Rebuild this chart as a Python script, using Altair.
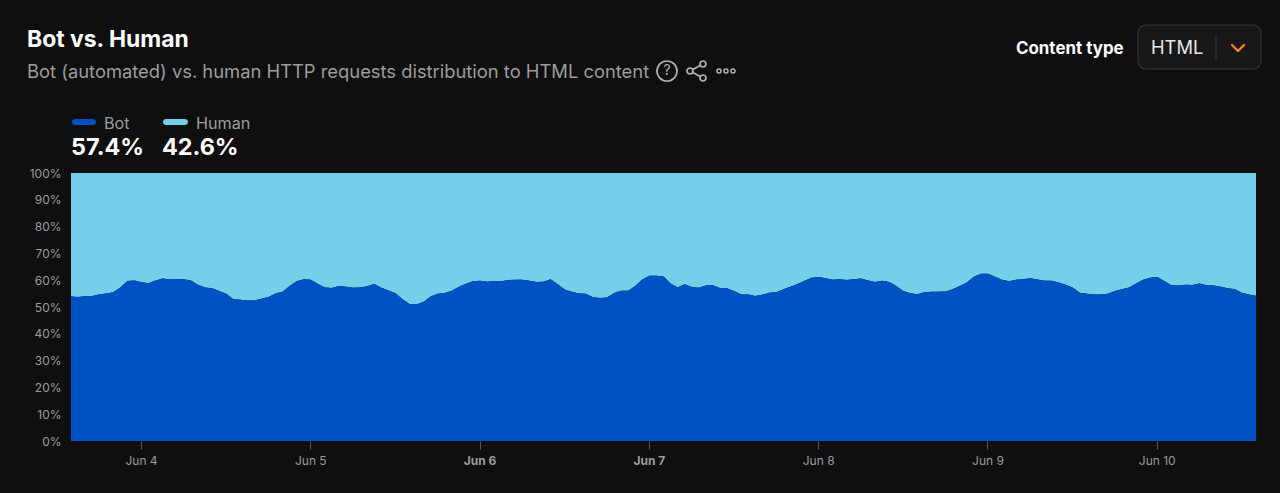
import altair as alt
import pandas as pd

bot_share = [
    53.9,53.7,54.0,54.1,54.7,55.0,55.5,57.3,59.7,59.9,59.2,58.9,59.9,60.6,60.3,60.4,60.4,59.9,58.3,57.3,
    57.0,56.0,54.9,52.9,52.7,52.4,52.4,53.1,53.7,55.0,55.7,57.8,59.6,60.4,60.2,58.6,57.3,57.1,57.8,57.6,
    57.2,57.3,57.7,58.6,57.2,56.2,55.1,52.9,51.1,50.9,52.0,53.9,54.9,55.2,56.1,57.6,58.7,59.6,59.8,
    59.4,59.7,59.6,60.1,60.2,60.2,59.8,59.3,59.4,60.4,58.5,56.5,55.7,55.0,54.9,53.6,53.4,53.5,55.2,56.1,
    56.1,57.8,60.3,61.7,61.7,61.4,58.8,57.3,58.5,57.5,57.2,58.0,58.1,57.1,57.0,56.0,54.7,54.7,54.1,54.6,
    55.3,55.5,56.6,57.6,58.6,59.8,60.9,61.2,60.7,60.2,60.4,60.1,60.4,60.6,59.9,59.3,59.8,59.3,
    57.8,56.0,55.1,54.8,55.5,55.7,55.7,55.8,56.6,57.8,59.1,61.3,62.4,62.4,61.3,60.2,59.6,60.2,60.4,60.7,
    60.3,59.8,59.8,59.1,58.3,57.3,55.3,54.9,54.7,54.7,54.9,56.0,56.6,57.3,58.8,60.2,60.9,61.2,59.7,58.1,
    58.0,58.3,58.2,58.8,58.1,58.0,57.6,57.0,56.6,55.3,54.7,54.2,
]
tick_days = ["2024-06-04","2024-06-05","2024-06-06","2024-06-07","2024-06-08","2024-06-09","2024-06-10"]
y_ticks = [0,10,20,30,40,50,60,70,80,90,100]

BG = "#0f0f10"; BOT = "#0051c3"; HUMAN = "#74cfe8"; GRAY = "#9c9c9c"; WHITE = "#ffffff"; FONT = "Inter"
L, T, W, H = 71, 173, 1185, 268

times = pd.date_range("2024-06-03T14:00:00Z", periods=len(bot_share), freq="h")
df = pd.DataFrame({"t": times.strftime("%Y-%m-%dT%H:%M:%SZ"), "bot": bot_share, "top": 100})
tick_ms = [int(pd.Timestamp(d + "T00:00:00Z").timestamp() * 1000) for d in tick_days]

x_dom = [int(times[0].timestamp() * 1000), int(times[-1].timestamp() * 1000)]
x_enc = alt.X("t:T", scale=alt.Scale(type="utc", domain=x_dom, nice=False), title=None,
    axis=alt.Axis(values=tick_ms, labelExpr="utcFormat(datum.value, '%b %-d')", domain=False, grid=False,
                  tickColor="#5a5a5a", tickSize=8, tickOffset=-0.5, labelColor=GRAY, labelFontSize=12, labelFont=FONT,
                  labelPadding=6, labelOverlap=False,
                  labelFontWeight=alt.expr("utcFormat(datum.value,'%-d')=='6'||utcFormat(datum.value,'%-d')=='7' ? 'bold' : 'normal'")))
y_scale = alt.Scale(domain=[0, 100], nice=False)
y_axis = alt.Axis(values=y_ticks, labelExpr="datum.value + '%'", domain=False, grid=False, ticks=False,
                  labelColor=GRAY, labelFontSize=12, labelFont=FONT, labelPadding=10, labelOverlap=False)

human = alt.Chart(df).mark_area(color=HUMAN, interpolate="linear").encode(
    x=x_enc, y=alt.Y("top:Q", scale=y_scale, title=None, axis=y_axis), y2="bot:Q")
bot = alt.Chart(df).mark_area(color=BOT, interpolate="linear").encode(
    x=x_enc, y=alt.Y("bot:Q", scale=y_scale, title=None, axis=y_axis), y2=alt.datum(0))

base = alt.Chart(pd.DataFrame({"a": [0]}))

def text(s, x, y, size, color, weight="normal", align="left"):
    return base.mark_text(text=s, fontSize=size, color=color, fontWeight=weight, align=align, baseline="middle", font=FONT).encode(
        x=alt.value(x - L), y=alt.value(y - T))

def line(x1, y1, x2, y2, color, width=1.8):
    return base.mark_rule(color=color, strokeWidth=width, strokeCap="round").encode(
        x=alt.value(x1 - L), x2=alt.value(x2 - L), y=alt.value(y1 - T), y2=alt.value(y2 - T))

def box(x1, y1, x2, y2, radius, fill, stroke=None):
    kw = {"stroke": stroke, "strokeWidth": 1.5} if stroke else {}
    return base.mark_rect(cornerRadius=radius, fill=fill, **kw).encode(
        x=alt.value(x1 - L), x2=alt.value(x2 - L), y=alt.value(y1 - T), y2=alt.value(y2 - T))

def ring(x, y, size, color="#b4b4b4", width=1.7):
    return base.mark_point(shape="circle", size=size, stroke=color, strokeWidth=width, fill=BG, opacity=1, filled=False).encode(
        x=alt.value(x - L), y=alt.value(y - T))

deco = [
    text("Bot vs. Human", 27, 40, 22.9, WHITE, "bold"),
    text("Bot (automated) vs. human HTTP requests distribution to HTML content", 27, 72, 18.38, GRAY),
    ring(667, 71, 400), text("?", 667, 71, 14, "#b4b4b4", "normal", "center"),
    line(690, 71, 703, 64, "#b4b4b4"), line(690, 71, 703, 78, "#b4b4b4"),
    ring(690, 71, 36), ring(703, 64, 36), ring(703, 78, 36),
    ring(719, 71, 16, "#b4b4b4", 1.5), ring(726, 71, 16, "#b4b4b4", 1.5), ring(733, 71, 16, "#b4b4b4", 1.5),
    text("Content type", 1016, 49, 16.9, WHITE, "bold"),
    box(1138, 25, 1261, 69, 8, "#18181a", "#2e2e30"),
    text("HTML", 1151, 49, 18.3, "#e6e6e6"),
    line(1216, 37, 1216, 59, "#3a3a3c", 1),
    line(1232, 45, 1238, 51, "#f6821f", 2.4), line(1238, 51, 1244, 45, "#f6821f", 2.4),
    box(72, 119, 96, 125, 3, BOT), text("Bot", 104, 124, 16.2, GRAY),
    box(163, 119, 188, 125, 3, HUMAN), text("Human", 196, 124, 16.2, GRAY),
    text("57.4%", 71, 148, 23.4, WHITE, "bold"), text("42.6%", 162, 148, 23.4, WHITE, "bold"),
]

chart = alt.layer(human, bot, *deco).properties(
    width=W, height=H, background=BG,
    autosize=alt.AutoSizeParams(type="none"),
    padding={"left": L - 8, "top": T - 8, "right": 16, "bottom": 44},
).configure_view(stroke=None)

chart.save("out.html", embed_options={"renderer": "svg", "actions": False,
                                      "defaultStyle": "html,body{background:#0f0f10}"})
